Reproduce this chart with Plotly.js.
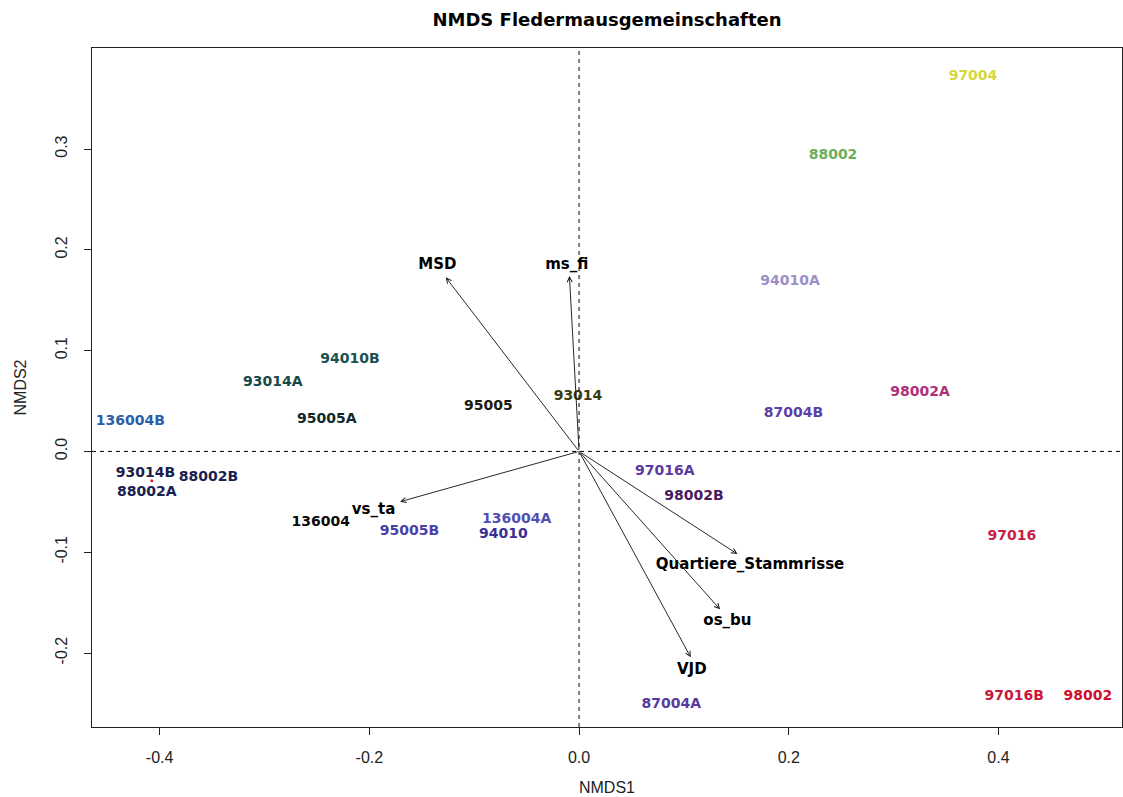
<!DOCTYPE html>
<html>
<head>
<meta charset="utf-8">
<script src="https://cdn.plot.ly/plotly-3.0.1.min.js"></script>
<style>html,body{margin:0;padding:0;background:#fff;}#chart{width:1123px;height:797px;}</style>
</head>
<body>
<div id="chart"></div>
<script>
// Site scores (label positions)
var siteNames = ['97004','88002','94010A','98002A','87004B','97016A','98002B','97016','97016B','98002','87004A',
                 '93014','95005','95005A','93014A','94010B','136004B','93014B','88002B','88002A','136004','95005B','136004A','94010'];
var siteX = [0.3757,0.2422,0.2012,0.3252,0.2045,0.0818,0.1096,0.4127,0.4150,0.4853,0.0880,
             -0.0010,-0.0865,-0.2406,-0.2921,-0.2184,-0.4280,-0.4136,-0.3535,-0.4123,-0.2464,-0.1618,-0.0594,-0.0722];
var siteY = [0.3724,0.2940,0.1690,0.0583,0.0378,-0.0201,-0.0449,-0.0846,-0.2427,-0.2433,-0.2506,
             0.0540,0.0443,0.0318,0.0682,0.0907,0.0293,-0.0217,-0.0257,-0.0406,-0.0703,-0.0790,-0.0674,-0.0820];
var siteColors = ['#d6d63c','#6cae5a','#9c8fc8','#b0307a','#5b40a8','#5b3aa0','#4a1a60','#c81e4a','#c8183c','#d0102a','#5a3a9e',
                  '#3a3a10','#1a1a10','#102828','#174848','#1a5050','#2a5ea8','#1a1e48','#1a1e50','#1a2050','#0a0a0a','#4a40a8','#5050b0','#3a2f90'];

// Environmental fit vectors (arrow tips) and their label positions
var vecNames = ['MSD','ms_fi','vs_ta','Quartiere_Stammrisse','os_bu','VJD'];
var vecX = [-0.1271,-0.0092,-0.1707,0.1510,0.1345,0.1065];
var vecY = [0.1727,0.1740,-0.0499,-0.1018,-0.1567,-0.2043];
var vecLabelX = [-0.1351,-0.0117,-0.1960,0.1631,0.1415,0.1075];
var vecLabelY = [0.1849,0.1849,-0.0580,-0.1127,-0.1683,-0.2169];

// Small red point
var dotX = [-0.4075];
var dotY = [-0.0290];

var xTicks = [-0.4,-0.2,0,0.2,0.4];
var xTickText = ['-0.4','-0.2','0.0','0.2','0.4'];
var yTicks = [-0.2,-0.1,0,0.1,0.2,0.3];
var yTickText = ['-0.2','-0.1','0.0','0.1','0.2','0.3'];

var traces = [
  {type:'scatter', mode:'markers', x:dotX, y:dotY, marker:{color:'#e02020', size:3}, hoverinfo:'skip', showlegend:false},
  {type:'scatter', mode:'text', x:siteX, y:siteY, text:siteNames, textposition:'middle center',
   textfont:{family:'DejaVu Sans', size:14, weight:'bold', color:siteColors}, showlegend:false},
  {type:'scatter', mode:'text', x:vecLabelX, y:vecLabelY, text:vecNames, textposition:'middle center',
   textfont:{family:'DejaVu Sans', size:15, weight:'bold', color:'#000'}, showlegend:false}
];

var annotations = vecNames.map(function(n,i){
  return {x:vecX[i], y:vecY[i], ax:0, ay:0, xref:'x', yref:'y', axref:'x', ayref:'y',
          text:'', showarrow:true, arrowhead:5, arrowsize:1.1, arrowwidth:0.9, arrowcolor:'#111'};
});

var axisFont = {family:'Liberation Sans, Arial, sans-serif', size:16, color:'#222'};

var layout = {
  width:1123, height:797,
  margin:{l:92, r:1, t:48, b:70},
  paper_bgcolor:'#fff', plot_bgcolor:'#fff',
  title:{text:'NMDS Fledermausgemeinschaften', x:0.5, xref:'paper', y:0.975, yref:'container', yanchor:'middle',
         font:{family:'DejaVu Sans', size:18, weight:'bold', color:'#000'}},
  xaxis:{range:[-0.4645,0.5178], tickvals:xTicks, ticktext:xTickText, ticks:'outside', ticklen:7, tickcolor:'#222',
         showline:true, mirror:true, linecolor:'#222', linewidth:1.3, showgrid:false, zeroline:false,
         tickfont:axisFont, ticklabelstandoff:8,
         title:{text:'NMDS1', font:axisFont, standoff:17}},
  yaxis:{range:[-0.2734,0.4002], tickvals:yTicks, ticktext:yTickText, ticks:'outside', ticklen:7, tickcolor:'#222',
         showline:true, mirror:true, linecolor:'#222', linewidth:1.3, showgrid:false, zeroline:false,
         tickfont:axisFont, tickangle:-90, ticklabelstandoff:10,
         title:{text:'NMDS2', font:axisFont, standoff:22}},
  shapes:[
    {type:'line', xref:'x', yref:'paper', x0:0, x1:0, y0:0, y1:1, line:{color:'#000', width:1, dash:'4px,4px'}},
    {type:'line', xref:'paper', yref:'y', x0:0, x1:1, y0:0, y1:0, line:{color:'#000', width:1, dash:'4px,4px'}}
  ],
  annotations:annotations,
  showlegend:false
};

Plotly.newPlot('chart', traces, layout, {displayModeBar:false, staticPlot:true});
</script>
</body>
</html>
